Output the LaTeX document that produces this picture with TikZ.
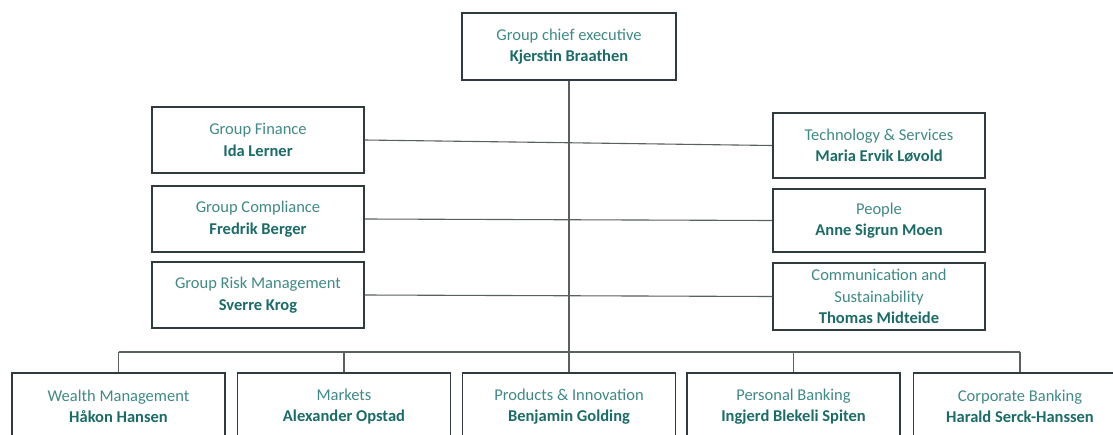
\documentclass[tikz,border=0pt]{standalone}
\usepackage{fontspec}
\setmainfont{Carlito}
\definecolor{titlec}{HTML}{3F8A87}
\definecolor{namec}{HTML}{1B6C68}
\definecolor{boxc}{HTML}{2F3B3E}
\definecolor{linec}{HTML}{5A5F60}
\begin{document}
\begin{tikzpicture}[x=1pt,y=-1pt,
  unit/.style={draw=boxc,line width=1.1pt,fill=white,minimum width=213pt,minimum height=66pt,inner sep=0pt,align=center,font=\fontsize{16.5}{21.5}\selectfont,text=titlec},
  conn/.style={draw=linec,line width=1.1pt}]
\useasboundingbox (0,0) rectangle (1113,434);
\newcommand{\nm}[1]{\textcolor{namec}{\bfseries #1}}
% nodes
\node[unit,minimum width=214pt,minimum height=67pt] (ceo) at (569,46.5) {Group chief executive\\\nm{Kjerstin Braathen}};
\node[unit,minimum width=212pt] (fin) at (258,140) {Group Finance\\\nm{Ida Lerner}};
\node[unit,minimum width=212pt] (comp) at (258,219) {Group Compliance\\\nm{Fredrik Berger}};
\node[unit,minimum width=212pt] (risk) at (258,295) {Group Risk Management\\\nm{Sverre Krog}};
\node[unit,minimum width=212pt,minimum height=65pt] (tech) at (879,145.5) {Technology \& Services\\\nm{Maria Ervik Løvold}};
\node[unit,minimum width=212pt,minimum height=63pt] (people) at (879,220.5) {People\\\nm{Anne Sigrun Moen}};
\node[unit,minimum width=212pt,minimum height=67pt] (comm) at (879,296.5) {Communication and\\Sustainability\\\nm{Thomas Midteide}};
\node[unit,minimum height=67pt] (wm) at (118.5,406.5) {Wealth Management\\\nm{Håkon Hansen}};
\node[unit,minimum height=67pt] (mk) at (344,406.5) {Markets\\\nm{Alexander Opstad}};
\node[unit,minimum height=67pt] (pi) at (569,406.5) {Products \& Innovation\\\nm{Benjamin Golding}};
\node[unit,minimum height=67pt] (pb) at (793.5,406.5) {Personal Banking\\\nm{Ingjerd Blekeli Spiten}};
\node[unit,minimum height=67pt] (cb) at (1020,406.5) {Corporate Banking\\\nm{Harald Serck-Hanssen}};
% connectors
\coordinate (busL) at (wm.north |- 0,352);
\coordinate (busR) at (cb.north |- 0,352);
\coordinate (busM) at (ceo.south |- 0,352);
\draw[conn] (fin.east) -- (tech.west);
\draw[conn] (comp.east) -- (people.west);
\draw[conn] (risk.east) -- (comm.west);
\draw[conn] (ceo.south) -- (busM);
\draw[conn] (busL) -- (busR);
\draw[conn] (busL) -- (wm.north);
\draw[conn] (mk.north |- busL) -- (mk.north);
\draw[conn] (busM) -- (pi.north);
\draw[conn] (pb.north |- busL) -- (pb.north);
\draw[conn] (busR) -- (cb.north);
\end{tikzpicture}
\end{document}
